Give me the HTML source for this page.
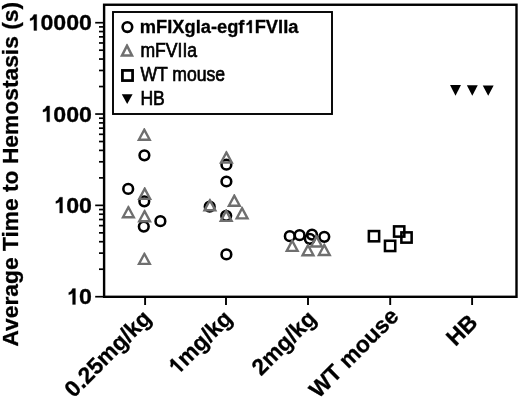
<!DOCTYPE html>
<html><head><meta charset="utf-8"><style>
html,body{margin:0;padding:0;background:#fff;width:520px;height:398px;overflow:hidden}
svg{display:block;font-family:"Liberation Sans", sans-serif;will-change:transform}
</style></head><body>
<svg width="520" height="398" viewBox="0 0 520 398" fill="#000">
<rect x="104.1" y="4.75" width="412.4" height="292.05" fill="none" stroke="#000" stroke-width="2.4"/>
<line x1="95.2" y1="296.70" x2="104" y2="296.70" stroke="#000" stroke-width="1.7"/>
<line x1="99.0" y1="269.21" x2="104" y2="269.21" stroke="#000" stroke-width="1.7"/>
<line x1="99.0" y1="253.12" x2="104" y2="253.12" stroke="#000" stroke-width="1.7"/>
<line x1="99.0" y1="241.71" x2="104" y2="241.71" stroke="#000" stroke-width="1.7"/>
<line x1="99.0" y1="232.86" x2="104" y2="232.86" stroke="#000" stroke-width="1.7"/>
<line x1="99.0" y1="225.63" x2="104" y2="225.63" stroke="#000" stroke-width="1.7"/>
<line x1="99.0" y1="219.52" x2="104" y2="219.52" stroke="#000" stroke-width="1.7"/>
<line x1="99.0" y1="214.22" x2="104" y2="214.22" stroke="#000" stroke-width="1.7"/>
<line x1="99.0" y1="209.55" x2="104" y2="209.55" stroke="#000" stroke-width="1.7"/>
<line x1="95.2" y1="205.37" x2="104" y2="205.37" stroke="#000" stroke-width="1.7"/>
<line x1="99.0" y1="177.88" x2="104" y2="177.88" stroke="#000" stroke-width="1.7"/>
<line x1="99.0" y1="161.79" x2="104" y2="161.79" stroke="#000" stroke-width="1.7"/>
<line x1="99.0" y1="150.38" x2="104" y2="150.38" stroke="#000" stroke-width="1.7"/>
<line x1="99.0" y1="141.53" x2="104" y2="141.53" stroke="#000" stroke-width="1.7"/>
<line x1="99.0" y1="134.30" x2="104" y2="134.30" stroke="#000" stroke-width="1.7"/>
<line x1="99.0" y1="128.19" x2="104" y2="128.19" stroke="#000" stroke-width="1.7"/>
<line x1="99.0" y1="122.89" x2="104" y2="122.89" stroke="#000" stroke-width="1.7"/>
<line x1="99.0" y1="118.22" x2="104" y2="118.22" stroke="#000" stroke-width="1.7"/>
<line x1="95.2" y1="114.04" x2="104" y2="114.04" stroke="#000" stroke-width="1.7"/>
<line x1="99.0" y1="86.55" x2="104" y2="86.55" stroke="#000" stroke-width="1.7"/>
<line x1="99.0" y1="70.46" x2="104" y2="70.46" stroke="#000" stroke-width="1.7"/>
<line x1="99.0" y1="59.05" x2="104" y2="59.05" stroke="#000" stroke-width="1.7"/>
<line x1="99.0" y1="50.20" x2="104" y2="50.20" stroke="#000" stroke-width="1.7"/>
<line x1="99.0" y1="42.97" x2="104" y2="42.97" stroke="#000" stroke-width="1.7"/>
<line x1="99.0" y1="36.86" x2="104" y2="36.86" stroke="#000" stroke-width="1.7"/>
<line x1="99.0" y1="31.56" x2="104" y2="31.56" stroke="#000" stroke-width="1.7"/>
<line x1="99.0" y1="26.89" x2="104" y2="26.89" stroke="#000" stroke-width="1.7"/>
<line x1="95.2" y1="22.71" x2="104" y2="22.71" stroke="#000" stroke-width="1.7"/>
<line x1="145.1" y1="296" x2="145.1" y2="305" stroke="#000" stroke-width="1.9"/>
<line x1="226.0" y1="296" x2="226.0" y2="305" stroke="#000" stroke-width="1.9"/>
<line x1="308.0" y1="296" x2="308.0" y2="305" stroke="#000" stroke-width="1.9"/>
<line x1="390.2" y1="296" x2="390.2" y2="305" stroke="#000" stroke-width="1.9"/>
<line x1="472.1" y1="296" x2="472.1" y2="305" stroke="#000" stroke-width="1.9"/>
<g transform="translate(66.20,304.45) scale(1,0.97)">
<polygon points="6.38,-16.38 9.23,-16.38 9.23,0.00 6.38,0.00 6.38,-11.72 5.34,-10.95 4.06,-10.44 2.55,-10.02 2.55,-12.30 3.83,-12.81 4.99,-13.92 5.80,-15.31" fill="#000" stroke="#000" stroke-width="0.3" stroke-linejoin="round"/>
<text x="12.90" y="0" font-weight="bold" font-size="23.2" stroke="#000" stroke-width="0.3">0</text>
</g>
<g transform="translate(53.30,213.12) scale(1,0.97)">
<polygon points="6.38,-16.38 9.23,-16.38 9.23,0.00 6.38,0.00 6.38,-11.72 5.34,-10.95 4.06,-10.44 2.55,-10.02 2.55,-12.30 3.83,-12.81 4.99,-13.92 5.80,-15.31" fill="#000" stroke="#000" stroke-width="0.3" stroke-linejoin="round"/>
<text x="12.90" y="0" font-weight="bold" font-size="23.2" stroke="#000" stroke-width="0.3">00</text>
</g>
<g transform="translate(40.40,121.79) scale(1,0.97)">
<polygon points="6.38,-16.38 9.23,-16.38 9.23,0.00 6.38,0.00 6.38,-11.72 5.34,-10.95 4.06,-10.44 2.55,-10.02 2.55,-12.30 3.83,-12.81 4.99,-13.92 5.80,-15.31" fill="#000" stroke="#000" stroke-width="0.3" stroke-linejoin="round"/>
<text x="12.90" y="0" font-weight="bold" font-size="23.2" stroke="#000" stroke-width="0.3">000</text>
</g>
<g transform="translate(27.50,30.46) scale(1,0.97)">
<polygon points="6.38,-16.38 9.23,-16.38 9.23,0.00 6.38,0.00 6.38,-11.72 5.34,-10.95 4.06,-10.44 2.55,-10.02 2.55,-12.30 3.83,-12.81 4.99,-13.92 5.80,-15.31" fill="#000" stroke="#000" stroke-width="0.3" stroke-linejoin="round"/>
<text x="12.90" y="0" font-weight="bold" font-size="23.2" stroke="#000" stroke-width="0.3">0000</text>
</g>
<text transform="translate(18.1,174.25) rotate(-90) scale(1.0,1)" text-anchor="middle" font-weight="bold" font-size="22.8" stroke="#000" stroke-width="0.3">Average Time to Hemostasis (s)</text>
<text transform="translate(152.6,319.6) rotate(-45)" text-anchor="end" font-weight="bold" font-size="22.8" stroke="#000" stroke-width="0.3">0.25mg/kg</text>
<g transform="translate(233.5,319.8) rotate(-45)">
<g transform="translate(-79.82,0)"><polygon points="6.27,-16.10 9.07,-16.10 9.07,0.00 6.27,0.00 6.27,-11.51 5.24,-10.76 3.99,-10.26 2.51,-9.85 2.51,-12.08 3.76,-12.59 4.90,-13.68 5.70,-15.05" fill="#000" stroke="#000" stroke-width="0.3" stroke-linejoin="round"/></g>
<text x="0" y="0" text-anchor="end" font-weight="bold" font-size="22.8" stroke="#000" stroke-width="0.3">mg/kg</text>
</g>
<text transform="translate(317.5,320.0) rotate(-45)" text-anchor="end" font-weight="bold" font-size="22.8" stroke="#000" stroke-width="0.3">2mg/kg</text>
<text transform="translate(399.9,317.5) rotate(-45)" text-anchor="end" font-weight="bold" font-size="22.8" stroke="#000" stroke-width="0.3">WT mouse</text>
<text transform="translate(478.8,323.8) rotate(-45)" text-anchor="end" font-weight="bold" font-size="22.8" stroke="#000" stroke-width="0.3">HB</text>
<rect x="113" y="12" width="219" height="102" fill="#fff" stroke="#000" stroke-width="1.9"/>
<circle cx="127.4" cy="27.1" r="4.8" fill="none" stroke="#000" stroke-width="2.6"/>
<path d="M126.59,43.85L127.41,43.85L134.05,56.65L119.95,56.65ZM127.00,48.48L124.06,54.15L129.94,54.15Z" fill="#6f6f6f" fill-rule="evenodd"/>
<rect x="122.42" y="70.42" width="10.15" height="10.15" fill="none" stroke="#000" stroke-width="2.75"/>
<polygon points="121.80,94.20 132.60,94.20 127.20,104.00" fill="#000"/>
<g transform="translate(139.8,32.9) scale(1,0.97)">
<text x="0" y="0" font-weight="bold" font-size="18.3" stroke="#000" stroke-width="0.3">mFIXgla-egf</text>
<g transform="translate(104.73,0)"><polygon points="5.03,-12.92 7.28,-12.92 7.28,0.00 5.03,0.00 5.03,-9.24 4.21,-8.64 3.20,-8.24 2.01,-7.91 2.01,-9.70 3.02,-10.10 3.93,-10.98 4.58,-12.08" fill="#000" stroke="#000" stroke-width="0.3" stroke-linejoin="round"/></g>
<text x="114.91" y="0" font-weight="bold" font-size="18.3" stroke="#000" stroke-width="0.3">FVIIa</text>
</g>
<text transform="translate(140.4,57.1) scale(1,1.17)" font-size="17.6" stroke="#000" stroke-width="0.6">mFVIIa</text>
<text transform="translate(140.4,81.0) scale(1,1.17)" font-size="17.6" stroke="#000" stroke-width="0.6">WT mouse</text>
<text transform="translate(140.4,105.4) scale(1,1.17)" font-size="17.6" stroke="#000" stroke-width="0.6">HB</text>
<circle cx="128.2" cy="188.9" r="4.85" fill="none" stroke="#000" stroke-width="2.55"/>
<circle cx="144.4" cy="155.3" r="4.85" fill="none" stroke="#000" stroke-width="2.55"/>
<circle cx="144.3" cy="201.3" r="4.85" fill="none" stroke="#000" stroke-width="2.55"/>
<circle cx="160.4" cy="221.2" r="4.85" fill="none" stroke="#000" stroke-width="2.55"/>
<circle cx="143.8" cy="226.6" r="4.85" fill="none" stroke="#000" stroke-width="2.55"/>
<circle cx="226.4" cy="164.7" r="4.85" fill="none" stroke="#000" stroke-width="2.55"/>
<circle cx="226.4" cy="181.5" r="4.85" fill="none" stroke="#000" stroke-width="2.55"/>
<circle cx="209.7" cy="206.7" r="4.85" fill="none" stroke="#000" stroke-width="2.55"/>
<circle cx="226.2" cy="215.8" r="4.85" fill="none" stroke="#000" stroke-width="2.55"/>
<circle cx="226.4" cy="254.4" r="4.85" fill="none" stroke="#000" stroke-width="2.55"/>
<circle cx="289.8" cy="236.2" r="4.85" fill="none" stroke="#000" stroke-width="2.55"/>
<circle cx="299.6" cy="235.2" r="4.85" fill="none" stroke="#000" stroke-width="2.55"/>
<circle cx="309.8" cy="238.8" r="4.85" fill="none" stroke="#000" stroke-width="2.55"/>
<circle cx="312.0" cy="234.6" r="4.85" fill="none" stroke="#000" stroke-width="2.55"/>
<circle cx="324.3" cy="236.8" r="4.85" fill="none" stroke="#000" stroke-width="2.55"/>
<path d="M143.87,128.00L144.73,128.00L151.70,140.90L136.90,140.90ZM144.30,132.14L140.84,138.55L147.76,138.55Z" fill="#6f6f6f" fill-rule="evenodd"/>
<path d="M144.27,187.10L145.13,187.10L152.10,200.00L137.30,200.00ZM144.70,191.24L141.24,197.65L148.16,197.65Z" fill="#6f6f6f" fill-rule="evenodd"/>
<path d="M127.97,205.50L128.83,205.50L135.80,218.40L121.00,218.40ZM128.40,209.64L124.94,216.05L131.86,216.05Z" fill="#6f6f6f" fill-rule="evenodd"/>
<path d="M144.17,209.50L145.03,209.50L152.00,222.40L137.20,222.40ZM144.60,213.64L141.14,220.05L148.06,220.05Z" fill="#6f6f6f" fill-rule="evenodd"/>
<path d="M143.97,252.20L144.83,252.20L151.80,265.10L137.00,265.10ZM144.40,256.34L140.94,262.75L147.86,262.75Z" fill="#6f6f6f" fill-rule="evenodd"/>
<path d="M225.97,150.80L226.83,150.80L233.80,163.70L219.00,163.70ZM226.40,154.94L222.94,161.35L229.86,161.35Z" fill="#6f6f6f" fill-rule="evenodd"/>
<path d="M209.47,198.50L210.33,198.50L217.30,211.40L202.50,211.40ZM209.90,202.64L206.44,209.05L213.36,209.05Z" fill="#6f6f6f" fill-rule="evenodd"/>
<path d="M233.87,194.00L234.73,194.00L241.70,206.90L226.90,206.90ZM234.30,198.14L230.84,204.55L237.76,204.55Z" fill="#6f6f6f" fill-rule="evenodd"/>
<path d="M241.67,206.60L242.53,206.60L249.50,219.50L234.70,219.50ZM242.10,210.74L238.64,217.15L245.56,217.15Z" fill="#6f6f6f" fill-rule="evenodd"/>
<path d="M225.77,209.10L226.63,209.10L233.60,222.00L218.80,222.00ZM226.20,213.24L222.74,219.65L229.66,219.65Z" fill="#6f6f6f" fill-rule="evenodd"/>
<path d="M291.77,239.10L292.63,239.10L299.60,252.00L284.80,252.00ZM292.20,243.24L288.74,249.65L295.66,249.65Z" fill="#6f6f6f" fill-rule="evenodd"/>
<path d="M307.57,243.50L308.43,243.50L315.40,256.40L300.60,256.40ZM308.00,247.64L304.54,254.05L311.46,254.05Z" fill="#6f6f6f" fill-rule="evenodd"/>
<path d="M316.07,234.80L316.93,234.80L323.90,247.70L309.10,247.70ZM316.50,238.94L313.04,245.35L319.96,245.35Z" fill="#6f6f6f" fill-rule="evenodd"/>
<path d="M323.87,243.30L324.73,243.30L331.70,256.20L316.90,256.20ZM324.30,247.44L320.84,253.85L327.76,253.85Z" fill="#6f6f6f" fill-rule="evenodd"/>
<rect x="368.88" y="231.07" width="10.25" height="10.25" fill="none" stroke="#000" stroke-width="2.55"/>
<rect x="384.98" y="240.78" width="10.25" height="10.25" fill="none" stroke="#000" stroke-width="2.55"/>
<rect x="394.07" y="226.38" width="10.25" height="10.25" fill="none" stroke="#000" stroke-width="2.55"/>
<rect x="401.38" y="232.38" width="10.25" height="10.25" fill="none" stroke="#000" stroke-width="2.55"/>
<polygon points="450.05,85.10 460.95,85.10 455.50,95.70" fill="#000"/>
<polygon points="466.85,85.20 477.75,85.20 472.30,95.70" fill="#000"/>
<polygon points="482.75,85.60 493.65,85.60 488.20,95.70" fill="#000"/>
</svg>
</body></html>
